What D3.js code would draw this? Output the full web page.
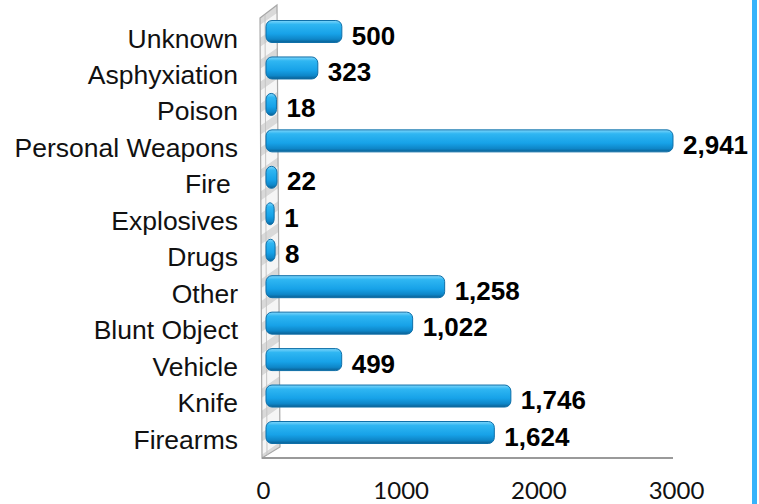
<!DOCTYPE html>
<html><head><meta charset="utf-8">
<script src="https://cdn.jsdelivr.net/npm/d3@7"></script>
<style>html,body{margin:0;padding:0;background:#fff;}svg{display:block;}</style>
</head><body>
<script>
const categories = ["Unknown","Asphyxiation","Poison","Personal Weapons","Fire ","Explosives","Drugs","Other","Blunt Object","Vehicle","Knife","Firearms"];
const values = [500,323,18,2941,22,1,8,1258,1022,499,1746,1624];
const valueLabels = ["500","323","18","2,941","22","1","8","1,258","1,022","499","1,746","1,624"];
const tickValues = [0,1000,2000,3000];

const W = 759, H = 504;
const svg = d3.select("body").append("svg").attr("width", W).attr("height", H);
const defs = svg.append("defs");

const g = defs.append("linearGradient").attr("id","barg").attr("x1",0).attr("y1",0).attr("x2",0).attr("y2",1);
[[0,"#7fd6fb"],[0.18,"#2fb6f2"],[0.6,"#17a2e8"],[0.85,"#0e86c8"],[1,"#0a5f92"]].forEach(s=>g.append("stop").attr("offset",s[0]).attr("stop-color",s[1]));

const pat = defs.append("pattern").attr("id","wallp").attr("patternUnits","userSpaceOnUse").attr("width",18).attr("height",22).attr("patternTransform","skewY(-35)");
pat.append("rect").attr("width",18).attr("height",22).attr("fill","#f5f5f5");
pat.append("rect").attr("width",18).attr("height",9).attr("fill","#d9d9d9");

// scales
const x = d3.scaleLinear().domain([0,3000]).range([266,673]);
const xAxisScale = d3.scaleLinear().domain([0,3000]).range([263,676]);
const y = d3.scalePoint().domain(categories).range([31.5,432.5]);
const cap = 8, barH = 22;

// wall
svg.append("path").attr("d","M260,18 L277,5 L280,447 L262,458 Z").attr("fill","url(#wallp)").attr("stroke","#a8a8a8").attr("stroke-width",1.2);
svg.append("line").attr("x1",265).attr("y1",15).attr("x2",267).attr("y2",455).attr("stroke","#c4c4c4").attr("stroke-width",1);
// floor
svg.append("line").attr("x1",262).attr("y1",458).attr("x2",x(3000)).attr("y2",458).attr("stroke","#9a9a9a").attr("stroke-width",2);

// right blue line
svg.append("rect").attr("x",752).attr("y",0).attr("width",5).attr("height",H).attr("fill","#36b3fb");

// bars
svg.append("g").selectAll("rect").data(values).join("rect")
  .attr("x", x(0))
  .attr("y", (d,i)=>y(categories[i]) - barH/2)
  .attr("width", d=>x(d)-x(0)+cap)
  .attr("height", barH)
  .attr("rx", 6).attr("ry", 6)
  .attr("fill","url(#barg)")
  .attr("stroke","#0f6fa8").attr("stroke-width",1);

// value labels
svg.append("g").selectAll("text").data(values).join("text")
  .attr("x", d=>x(d)+cap+10)
  .attr("y", (d,i)=>y(categories[i]) + 13)
  .attr("font-family","'Liberation Sans', Arial, sans-serif")
  .attr("font-weight","bold").attr("font-size",26).attr("fill","#000")
  .text((d,i)=>valueLabels[i]);

// category labels
svg.append("g").selectAll("text").data(categories).join("text")
  .attr("x", 238)
  .attr("y", d=>y(d) + 16)
  .attr("text-anchor","end")
  .attr("font-family","'Liberation Sans', Arial, sans-serif")
  .attr("font-size",26.5).attr("fill","#111")
  .style("white-space","pre")
  .text(d=>d);

// x axis tick labels
const axis = d3.axisBottom(xAxisScale).tickValues(tickValues).tickFormat(d3.format("d")).tickSize(0).tickPadding(0);
const ax = svg.append("g").attr("transform","translate(0,482)").call(axis);
ax.select(".domain").remove();
ax.selectAll("text").attr("font-family","Lato, 'Open Sans', sans-serif").attr("font-size",24).attr("fill","#111").attr("dy","0.71em");
</script>
</body></html>
